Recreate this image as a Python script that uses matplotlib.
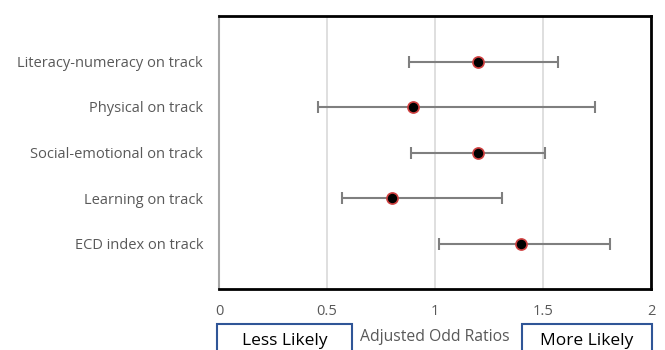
import matplotlib
matplotlib.use("Agg")
import matplotlib.pyplot as plt
from matplotlib.patches import Rectangle

categories = ["Literacy-numeracy on track", "Physical on track", "Social-emotional on track",
              "Learning on track", "ECD index on track"]
odds = [1.20, 0.90, 1.20, 0.80, 1.40]
lower = [0.88, 0.46, 0.89, 0.57, 1.02]
upper = [1.57, 1.74, 1.51, 1.31, 1.81]
xticks = [0, 0.5, 1, 1.5, 2]
xticklabels = ["0", "0.5", "1", "1.5", "2"]

plt.rcParams['font.family'] = ['Open Sans', 'DejaVu Sans']

W, H = 665, 350
fig = plt.figure(figsize=(W / 100, H / 100), dpi=100)
ax = fig.add_axes([219 / W, 1 - 289 / H, (651 - 219) / W, (289 - 16) / H])

ypos = list(range(1, len(categories) + 1))
xerr = [[o - l for o, l in zip(odds, lower)], [u - o for o, u in zip(odds, upper)]]
ax.errorbar(odds, ypos, xerr=xerr, fmt='none', ecolor='#7f7f7f', elinewidth=1.5,
            capsize=4, capthick=1.5, zorder=2)
ax.scatter(odds, ypos, s=64, facecolor='black', edgecolor='#d04040', linewidth=1.2, zorder=3)

ax.set_xlim(0, 2)
ax.set_ylim(6, 0)
ax.set_xticks(xticks)
ax.set_xticklabels(xticklabels)
ax.set_yticks(ypos)
ax.set_yticklabels(categories)
ax.tick_params(axis='both', length=0, labelsize=10.5, colors='#595959')
ax.tick_params(axis='y', pad=11.5)
ax.tick_params(axis='x', pad=11)
ax.grid(axis='x', color='#d9d9d9', linewidth=1.2, zorder=0)
ax.set_axisbelow(True)
for s in ['top', 'right', 'bottom']:
    ax.spines[s].set_color('black')
    ax.spines[s].set_linewidth(2)
ax.spines['left'].set_color('#a6a6a6')
ax.spines['left'].set_linewidth(1.5)

# Bottom boxes
box_color = '#2f5597'
fig.patches.append(Rectangle((217 / W, -0.05), (352 - 217) / W, 0.05 + 1 - 324 / H,
                             transform=fig.transFigure, fill=False, edgecolor=box_color,
                             linewidth=1.5, clip_on=False))
fig.patches.append(Rectangle((522 / W, -0.05), (652 - 522) / W, 0.05 + 1 - 324 / H,
                             transform=fig.transFigure, fill=False, edgecolor=box_color,
                             linewidth=1.5, clip_on=False))
fig.text(284.5 / W, 1 - 341 / H, "Less Likely", ha='center', va='center', fontsize=12.5, color='black')
fig.text(587 / W, 1 - 341 / H, "More Likely", ha='center', va='center', fontsize=12.5, color='black')
fig.text(435 / W, 1 - 337 / H, "Adjusted Odd Ratios", ha='center', va='center', fontsize=11.3, color='#595959')

fig.savefig("out.png", dpi=100)
